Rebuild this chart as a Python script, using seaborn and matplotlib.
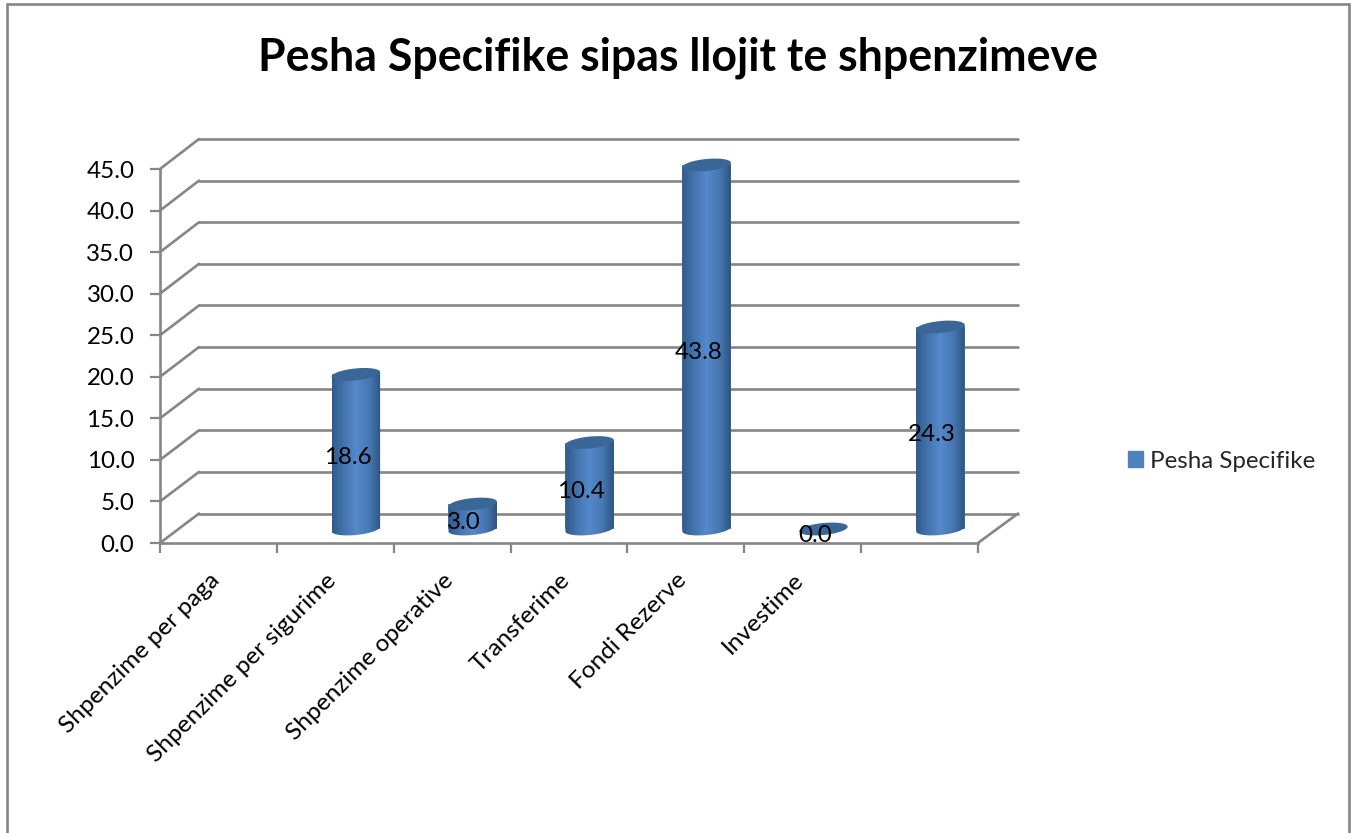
import numpy as np
import pandas as pd
import matplotlib
matplotlib.use("Agg")
import matplotlib.pyplot as plt
import seaborn as sns
from matplotlib.colors import LinearSegmentedColormap
from matplotlib.lines import Line2D
from matplotlib.patches import ConnectionPatch, Patch, PathPatch, Polygon
from matplotlib.path import Path

# ---- data ----
categories = ["Shpenzime per paga", "Shpenzime per sigurime", "Shpenzime operative",
              "Transferime", "Fondi Rezerve", "Investime", " "]
values = [np.nan, 18.6, 3.0, 10.4, 43.8, 0.0, 24.3]
value_ticks = [0, 5, 10, 15, 20, 25, 30, 35, 40, 45]
series_name = "Pesha Specifike"
title_text = "Pesha Specifike sipas llojit te shpenzimeve"

W, H = 1352, 833
GRAY = "#868686"
sns.set_theme(style="white")
plt.rcParams["font.family"] = ["Lato", "DejaVu Sans"]

fig = plt.figure(figsize=(W / 100, H / 100), dpi=100, facecolor="white")


def axes_px(x0, x1, ytop, ybot, zorder):
    a = fig.add_axes([x0 / W, 1 - ybot / H, (x1 - x0) / W, (ybot - ytop) / H], zorder=zorder)
    a.patch.set_alpha(0)
    return a


# back wall
back = axes_px(199, 1018, 139, 513.5, 1)
back.set_xlim(0, 7)
back.set_ylim(0, 45)
back.set_yticks(value_ticks)
back.set_xticks([])
back.tick_params(left=False, labelleft=False)
back.grid(axis="y", color=GRAY, lw=1.9)
for g in back.get_ygridlines():
    g.set_clip_on(False)
for s in back.spines.values():
    s.set_visible(False)

# front plane with axes, ticks and labels
front = axes_px(160, 978, 169, 543, 2)
front.set_xlim(0, 7)
front.set_ylim(0, 45)
front.set_yticks(value_ticks)
front.set_yticklabels([f"{v:.1f}" for v in value_ticks], fontsize=17.4, color="black")
front.set_xticks(range(8))
front.set_xticklabels([])
front.set_xticks(np.arange(7) + 0.5 - 0.085, labels=categories, minor=True, rotation=45, ha="right",
                 rotation_mode="anchor", fontsize=17.6, color="black")
front.tick_params(axis="both", which="major", length=7, width=1.6, color=GRAY, left=True, bottom=True)
front.tick_params(axis="y", which="major", pad=11.5)
front.tick_params(axis="x", which="minor", length=0, pad=19)
for name, s in front.spines.items():
    s.set_visible(name in ("left", "bottom"))
    s.set_color(GRAY)
    s.set_linewidth(1.9)

# wall diagonals joining the two planes
for v in value_ticks:
    fig.add_artist(ConnectionPatch((0, v), (0, v), "data", "data", axesA=front, axesB=back,
                                   color=GRAY, lw=1.9, zorder=1.5))
fig.add_artist(ConnectionPatch((7, 0), (7, 0), "data", "data", axesA=front, axesB=back,
                               color=GRAY, lw=1.9, zorder=1.5))

# bars, on the middle plane
PX_Y = 374 / 45
LOW, HIGH = -3.0, 48.0
mid = axes_px(180.5, 998.8, 529 - HIGH * PX_Y, 529 - LOW * PX_Y, 3)
df = pd.DataFrame({"Kategoria": categories, "Pesha": values})
BAR_W = 0.415
sns.barplot(data=df, x="Kategoria", y="Pesha", order=categories, width=BAR_W, color="#4F81BD",
            saturation=1, errorbar=None, ax=mid, linewidth=0)
mid.set_ylim(LOW, HIGH)
mid.set_xlim(-0.5, 6.5)
mid.axis("off")

shade = LinearSegmentedColormap.from_list(
    "cyl", [(0, "#2f5a8d"), (0.22, "#4272ab"), (0.5, "#5589cb"), (0.78, "#4576b0"), (1, "#2c5482")])
gradient = np.linspace(0, 1, 128)[None, :]
B = 6.0 / PX_Y
SHEAR = 2.3 / PX_Y
theta = np.linspace(0, 2 * np.pi, 80)
for i, v in enumerate(values):
    if np.isnan(v):
        continue
    a = BAR_W / 2
    if v > 0:
        low = theta[(theta >= np.pi)]
        xs = np.r_[i - a, i + a * np.cos(low), i + a]
        ys = np.r_[v - SHEAR, B * np.sin(low) + SHEAR * np.cos(low), v + SHEAR]
        body = PathPatch(Path(np.c_[xs, ys]), transform=mid.transData, fc="none", ec="none")
        mid.add_patch(body)
        im = mid.imshow(gradient, extent=(i - a, i + a, -B - SHEAR, v + SHEAR), aspect="auto",
                        cmap=shade, zorder=3, origin="lower")
        im.set_clip_path(body)
    mid.add_patch(Polygon(np.c_[i + a * np.cos(theta), v + B * np.sin(theta) + SHEAR * np.cos(theta)],
                          closed=True, fc="#3b6698", ec="none", zorder=4))
    mid.annotate(f"{v:.1f}", (i, v / 2), xytext=(-8.5 * 0.72, -6 * 0.72), textcoords="offset points",
                 ha="center", va="center", fontsize=17.4, color="black", zorder=6)
mid.set_ylim(LOW, HIGH)
mid.set_xlim(-0.5, 6.5)

# title, legend, frame
fig.text(677.5 / W, 1 - 58 / H, title_text, ha="center", va="center", fontsize=32.1, fontweight="bold", color="black")
fig.legend(handles=[Patch(color="#4F81BD", label=series_name)], loc="center left",
           bbox_to_anchor=(1128 / W, 1 - 461 / H), frameon=False, fontsize=17.4,
           handlelength=0.62, handleheight=0.62, handletextpad=0.3, borderpad=0, borderaxespad=0)
for xs, ys in [((7, 7), (4, H)), ((7, 1349), (4, 4)), ((1349, 1349), (4, H))]:
    fig.add_artist(Line2D([x / W for x in xs], [1 - y / H for y in ys], color=GRAY, lw=1.9))

fig.savefig("out.png", dpi=100, facecolor="white")
